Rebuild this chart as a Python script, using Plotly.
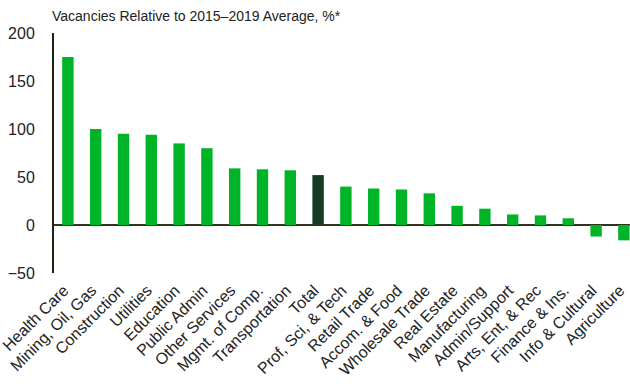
import plotly.graph_objects as go

categories = ["Health Care", "Mining, Oil, Gas", "Construction", "Utilities", "Education",
              "Public Admin", "Other Services", "Mgmt. of Comp.", "Transportation", "Total",
              "Prof, Sci, & Tech", "Retail Trade", "Accom. & Food", "Wholesale Trade",
              "Real Estate", "Manufacturing", "Admin/Support", "Arts, Ent, & Rec",
              "Finance & Ins.", "Info & Cultural", "Agriculture"]
values = [175, 100, 95, 94, 85, 80, 59, 58, 57, 52, 40, 38, 37, 33, 20, 17, 11, 10, 7, -12, -16]
highlight = "Total"

green = "#00b427"
dark = "#173b22"
colors = [dark if c == highlight else green for c in categories]

fig = go.Figure(go.Bar(x=categories, y=values, marker_color=colors, marker_line_width=0))

font = "Liberation Sans, Arial, sans-serif"
W, H = 630, 390
fig.update_layout(
    width=W, height=H,
    margin=dict(l=54, r=0, t=33, b=117, autoexpand=False),
    paper_bgcolor="white", plot_bgcolor="white",
    bargap=0.59,
    showlegend=False,
    font=dict(family=font, color="#222222"),
    title=dict(text="Vacancies Relative to 2015–2019 Average, %*", x=52 / W, xref="container",
               xanchor="left", y=1 - 16 / H, yref="container", yanchor="middle",
               font=dict(size=14, family=font, color="#222222")),
)
fig.update_xaxes(tickangle=-45, tickfont=dict(size=16, family=font, color="#222222"),
                 showgrid=False, showline=False, ticks="",
                 ticklabelshift=-4, ticklabelstandoff=4,
                 range=[-0.5, 20.22], automargin=False)
fig.update_yaxes(range=[-50, 200], tickvals=[-50, 0, 50, 100, 150, 200],
                 tickfont=dict(size=16, family=font, color="#222222"),
                 showgrid=False, showline=True, linecolor="#1f2410", linewidth=2,
                 ticks="outside", ticklen=14, tickcolor="rgba(0,0,0,0)",
                 zeroline=True, zerolinecolor="#333322", zerolinewidth=2,
                 automargin=False)
fig.write_html("out.html", config={"displayModeBar": False},
               post_script="document.body.style.margin='0';document.body.style.overflow='hidden';")
